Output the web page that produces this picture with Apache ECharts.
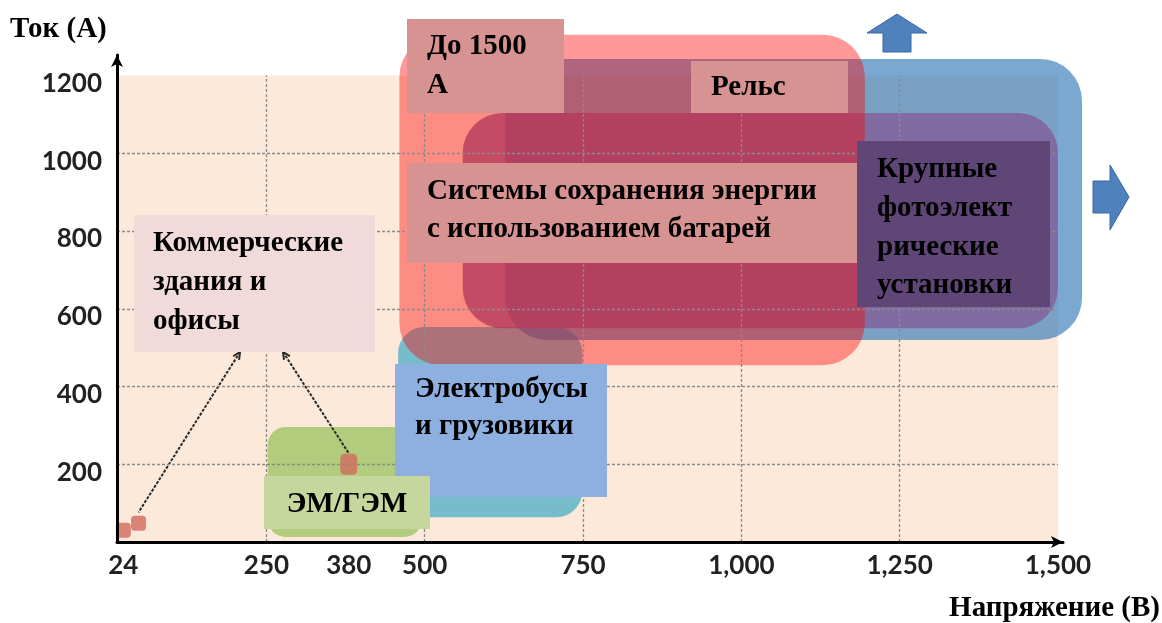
<!DOCTYPE html>
<html>
<head>
<meta charset="utf-8">
<script src="https://cdn.jsdelivr.net/npm/echarts@6/dist/echarts.min.js"></script>
<style>
  html, body { margin: 0; padding: 0; background: #ffffff; }
  #chart { width: 1162px; height: 623px; }
</style>
</head>
<body>
<div id="chart"></div>
<script>
// Application zones: voltage range (V) and current range (A)
const zoneNames = ['Электробусы и грузовики', 'ЭМ/ГЭМ', 'Крупные фотоэлектрические установки',
                   'Системы сохранения энергии с использованием батарей', 'Рельс'];
const zoneVoltageMin = [458, 252, 627, 560, 460];
const zoneVoltageMax = [749, 496, 1538, 1500, 1195];
const zoneCurrentMin = [64, 13, 520, 550, 455];
const zoneCurrentMax = [553, 296, 1243, 1104, 1305];

// Commercial buildings and offices: DC bus points
const buildingVoltage = [24, 48, 380];
const buildingCurrent = [30, 48, 200];

// Axis ticks and grid
const xTickValues = [24, 250, 380, 500, 750, 1000, 1250, 1500];
const yTickValues = [200, 400, 600, 800, 1000, 1200];
const xGridValues = [250, 500, 750, 1000, 1250];
const yGridValues = [200, 400, 600, 800, 1000];
const xRange = [14, 1500];
const yRange = [0, 1200];

// ---- presentation ----
const zoneStyles = [
  { fill: 'rgba(75,172,198,0.75)', r: 26 },
  { fill: 'rgba(155,192,93,0.75)', r: 18 },
  { fill: 'rgba(46,117,182,0.63)', r: 42 },
  { fill: 'rgba(130,93,152,0.77)', r: 40 },
  { fill: 'rgba(255,0,0,0.40)', r: 42 }
];
const serif = '"Liberation Serif", "Times New Roman", serif';
const tickFont = 'Lato, "Open Sans", sans-serif';
const captionSize = 29;

const chart = echarts.init(document.getElementById('chart'), null, { renderer: 'canvas' });

const zoneData = zoneNames.map((n, i) => ({
  name: n,
  value: [zoneVoltageMin[i], zoneVoltageMax[i], zoneCurrentMin[i], zoneCurrentMax[i], i]
}));
const pointData = buildingVoltage.map((v, i) => [v, buildingCurrent[i]]);

// leader lines run from the bottom of the "Коммерческие здания" box to points 1 and 2
const leaderAnchors = [[240, 352], [283, 352]];
const leaderTargets = [1, 2];

function labelBox(x, y, w, h, fill, text, tx, ty, lh, align) {
  return {
    type: 'group',
    z: 100,
    children: [
      { type: 'rect', shape: { x: x, y: y, width: w, height: h }, style: { fill: fill }, z: 100 },
      {
        type: 'text', z: 101,
        style: {
          x: tx, y: ty, text: text,
          fill: '#000', fontFamily: serif, fontWeight: 'bold', fontSize: captionSize,
          lineHeight: lh, align: align || 'left', verticalAlign: 'top'
        }
      }
    ]
  };
}

const option = {
  animation: false,
  backgroundColor: '#ffffff',
  grid: { left: 117, right: 99, top: 55, bottom: 81, containLabel: false, outerBoundsMode: 'none' },
  xAxis: {
    type: 'value', min: 14, max: 1508, z: 20,
    axisLine: { show: true, lineStyle: { color: '#000', width: 3 }, symbol: ['none', 'arrow'], symbolSize: [9, 12] },
    axisTick: { show: false },
    splitLine: { show: false },
    axisLabel: {
      customValues: xTickValues,
      formatter: v => v.toLocaleString('en-US'),
      color: '#222', fontFamily: tickFont, fontWeight: 'bold', fontSize: 26, margin: 11
    }
  },
  yAxis: {
    type: 'value', min: 0, max: 1253, z: 20,
    axisLine: { show: true, lineStyle: { color: '#000', width: 3 }, symbol: ['none', 'arrow'], symbolSize: [9, 12] },
    axisTick: { show: false },
    splitLine: { show: false },
    axisLabel: {
      customValues: yTickValues,
      formatter: v => String(v),
      color: '#222', fontFamily: tickFont, fontWeight: 'bold', fontSize: 26, margin: 15,
      verticalAlign: 'top', lineHeight: 16
    }
  },
  series: [
    {
      // plot background
      type: 'scatter', data: [], z: 1, silent: true,
      markArea: {
        silent: true,
        itemStyle: { color: '#FCE9DA' },
        data: [[{ coord: [xRange[0], yRange[0]] }, { coord: [xRange[1], yRange[1]] }]]
      }
    },
    {
      // dotted grid
      type: 'scatter', data: [], z: 2, silent: true,
      markLine: {
        silent: true, symbol: 'none', label: { show: false },
        lineStyle: { color: '#8a8a8a', type: [3, 2], width: 1.3 },
        data: yGridValues.map(y => [{ coord: [xRange[0], y] }, { coord: [xRange[1], y] }])
          .concat(xGridValues.map(x => [{ coord: [x, yRange[0]] }, { coord: [x, yRange[1]] }]))
      }
    },
    {
      // application zones
      type: 'custom', z: 3, clip: false, silent: true,
      encode: { x: [0, 1], y: [2, 3] },
      data: zoneData,
      renderItem: function (params, api) {
        const p1 = api.coord([api.value(0), api.value(3)]);
        const p2 = api.coord([api.value(1), api.value(2)]);
        const s = zoneStyles[api.value(4)];
        return {
          type: 'rect', z2: params.dataIndex,
          shape: { x: p1[0], y: p1[1], width: p2[0] - p1[0], height: p2[1] - p1[1], r: s.r },
          style: { fill: s.fill }
        };
      }
    },
    {
      // leader lines to the building points
      type: 'custom', z: 4, clip: false, silent: true,
      data: leaderTargets.map((t, i) => [buildingVoltage[t], buildingCurrent[t], i]),
      renderItem: function (params, api) {
        const end = api.coord([api.value(0), api.value(1)]);
        const a = leaderAnchors[api.value(2)];
        const ex = end[0], ey = end[1] - 11;
        const ang = Math.atan2(ey - a[1], ex - a[0]);
        const L = 8;
        const h1 = [a[0] + L * Math.cos(ang + 0.45), a[1] + L * Math.sin(ang + 0.45)];
        const h2 = [a[0] + L * Math.cos(ang - 0.45), a[1] + L * Math.sin(ang - 0.45)];
        return {
          type: 'group',
          children: [
            { type: 'line', shape: { x1: a[0], y1: a[1], x2: ex, y2: ey },
              style: { stroke: '#2a2a2a', lineWidth: 2, lineDash: [3, 1.5] } },
            { type: 'polyline', shape: { points: [h1, a, h2] },
              style: { stroke: '#2a2a2a', lineWidth: 2, fill: null } }
          ]
        };
      }
    },
    {
      name: 'Коммерческие здания и офисы',
      type: 'scatter', z: 5, silent: true,
      symbol: 'roundRect',
      symbolSize: (v, p) => (p.dataIndex === 2 ? [17, 21] : 15),
      itemStyle: { color: '#CF6A5E' },
      data: pointData
    }
  ],
  graphic: [
    // axis titles
    { type: 'text', z: 100, style: { x: 10, y: 30, text: 'Ток (А)', fill: '#000', fontFamily: serif,
      fontWeight: 'bold', fontSize: 29, verticalAlign: 'middle' } },
    { type: 'text', z: 100, style: { x: 1160, y: 609, text: 'Напряжение (В)', fill: '#000', fontFamily: serif,
      fontWeight: 'bold', fontSize: 29, align: 'right', verticalAlign: 'middle' } },
    // direction arrows
    { type: 'polygon', z: 100, shape: { points: [[897, 14], [927, 33], [911, 33], [911, 52], [883, 52], [883, 33], [867, 33]] },
      style: { fill: '#4F81BD', stroke: '#3A68A3', lineWidth: 1 } },
    { type: 'polygon', z: 100, shape: { points: [[1129, 197], [1110, 165], [1110, 181], [1093, 181], [1093, 213], [1110, 213], [1110, 230]] },
      style: { fill: '#4F81BD', stroke: '#3A68A3', lineWidth: 1 } },
    // zone captions
    labelBox(134, 215, 241, 137, '#F0DADA', 'Коммерческие\nздания и\nофисы', 153, 224.5, 39),
    labelBox(407, 19, 157, 94, '#D79391', 'До 1500\nА', 427, 27.5, 39),
    labelBox(691, 61, 157, 52, '#D79391', 'Рельс', 711, 68, 40),
    labelBox(407, 163, 450, 100, '#D79391', 'Системы сохранения энергии\nс использованием батарей', 427, 173, 38),
    labelBox(857, 141, 193, 166, '#5F4677', 'Крупные\nфотоэлект\nрические\nустановки', 877, 150.5, 38.7),
    labelBox(395, 364, 212, 133, '#8EB0E0', 'Электробусы\nи грузовики', 415, 371.5, 37),
    labelBox(264, 476, 166, 53, '#C5D79D', 'ЭМ/ГЭМ', 347, 485, 40, 'center')
  ]
};

chart.setOption(option);
</script>
</body>
</html>
